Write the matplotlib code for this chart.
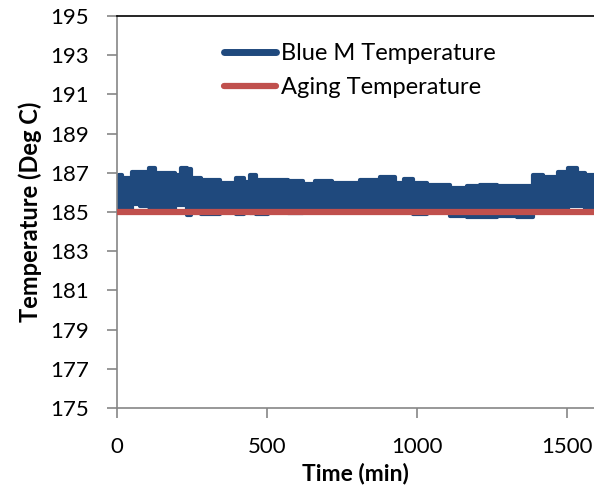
import matplotlib.pyplot as plt
import numpy as np

# envelope of the logged Blue M temperature (min / max of the dense trace)
time_min = [0, 10, 20, 45, 55, 100, 110, 125, 130, 185, 200, 227, 237, 253, 310,
            377, 415, 432, 455, 472, 532, 610, 632, 688, 743, 777, 843, 910, 943,
            971, 999, 1066, 1155, 1177, 1243, 1288, 1377, 1399, 1444, 1499, 1510,
            1555, 1566, 1593]
blue_upper = [186.85, 186.89, 186.72, 186.72, 187.06, 187.06, 187.23, 187.23, 186.97,
              186.97, 186.89, 187.23, 187.2, 186.72, 186.63, 186.5, 186.72, 186.55,
              186.89, 186.63, 186.62, 186.6, 186.43, 186.57, 186.5, 186.5, 186.63,
              186.79, 186.46, 186.67, 186.5, 186.38, 186.21, 186.33, 186.38, 186.33,
              186.33, 186.89, 186.79, 187.06, 187.23, 186.97, 186.89, 186.89]
blue_lower = [185.0, 185.0, 185.0, 185.0, 185.39, 185.3, 185.27, 185.35, 185.0,
              185.0, 185.35, 185.35, 184.85, 185.0, 184.92, 185.0, 184.92, 185.0,
              184.95, 184.92, 185.0, 184.93, 185.0, 185.0, 185.0, 185.0, 185.0,
              185.0, 185.0, 185.0, 184.9, 185.0, 184.8, 184.75, 184.75, 184.78,
              184.75, 185.0, 185.0, 185.0, 185.32, 185.32, 185.0, 185.0]
aging_time = [0, 1600]
aging_temp = [185, 185]

blue = '#1F497D'
red = '#C0504D'
grey = '#868686'

plt.rcParams['font.family'] = ['Lato', 'DejaVu Sans']

fig = plt.figure(figsize=(5.94, 4.88), dpi=100)
ax = fig.add_axes([0.197, 0.164, 0.803, 0.803])

ax.fill_between(time_min, blue_lower, blue_upper, step='mid', color=blue, lw=3,
                edgecolor=blue, joinstyle='round', zorder=2)
ax.plot([], [], color=blue, lw=5, solid_capstyle='round', label='Blue M Temperature')
ax.plot(aging_time, aging_temp, color=red, lw=4.5, solid_capstyle='butt',
        label='Aging Temperature', zorder=3)

ax.set_xlim(0, 1590)
ax.set_ylim(175, 195)
ax.set_yticks(np.arange(175, 196, 2))
ax.set_xticks([0, 500, 1000, 1500])

for s in ['left', 'bottom']:
    ax.spines[s].set_color(grey)
    ax.spines[s].set_linewidth(1.2)
ax.spines['right'].set_visible(False)
ax.spines['top'].set_color('black')
ax.spines['top'].set_linewidth(1.2)

ax.tick_params(axis='both', direction='out', length=7, width=1.2, color=grey,
               labelsize=16)
ax.tick_params(axis='y', pad=13)
ax.tick_params(axis='x', pad=14)

ax.set_xlabel('Time (min)', fontsize=16.5, fontweight='bold', labelpad=4)
ax.set_ylabel('Temperature (Deg C)', fontsize=17, fontweight='bold', labelpad=6)

for h in ax.legend(loc='upper left', bbox_to_anchor=(0.18, 0.985), frameon=False,
                   fontsize=17, handlelength=2.2, handletextpad=0.2,
                   labelspacing=0.55).get_lines():
    h.set_solid_capstyle('round')

fig.savefig('out.png', dpi=100)
